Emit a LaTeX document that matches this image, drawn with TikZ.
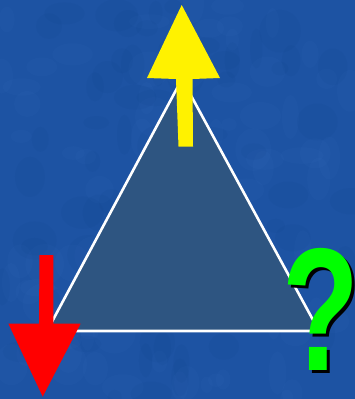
\documentclass[tikz,border=0pt]{standalone}
\usepackage{fontspec}
\setmainfont{Liberation Sans}
\definecolor{bgblue}{HTML}{1D53A3}
\definecolor{bglight}{HTML}{3A74C0}
\definecolor{bgdark}{HTML}{0F3F86}
\definecolor{trifill}{HTML}{2E5581}
\definecolor{qgreen}{HTML}{00FF00}
\tikzset{
  arrowshape/.style={draw=none},
  edge/.style={draw=white, line width=2.6pt, line join=miter},
  qmark/.style={anchor=base, inner sep=0pt, font=\bfseries\fontsize{175}{175}\selectfont},
}
\begin{document}
\begin{tikzpicture}[x=1pt,y=-1pt]
\useasboundingbox (0,0) rectangle (355,399);
\fill[bgblue] (0,0) rectangle (355,399);
\pgfmathsetseed{7}
\begin{scope}
\clip (0,0) rectangle (355,399);
\foreach \i in {1,...,90}{
  \pgfmathsetmacro{\px}{rnd*355}
  \pgfmathsetmacro{\py}{rnd*399}
  \pgfmathsetmacro{\rx}{6+rnd*16}
  \pgfmathsetmacro{\ry}{6+rnd*16}
  \fill[bglight, opacity=0.09] (\px,\py) ellipse [x radius=\rx, y radius=\ry];
}
\foreach \i in {1,...,70}{
  \pgfmathsetmacro{\px}{rnd*355}
  \pgfmathsetmacro{\py}{rnd*399}
  \pgfmathsetmacro{\rx}{6+rnd*16}
  \pgfmathsetmacro{\ry}{6+rnd*16}
  \fill[bgdark, opacity=0.09] (\px,\py) ellipse [x radius=\rx, y radius=\ry];
}
\end{scope}
% triangle
\coordinate (T) at (182,79);
\coordinate (L) at (47,331);
\coordinate (R) at (319,331);
\fill[trifill] (T) -- (L) -- (R) -- cycle;
\draw[edge] (T) -- (L) -- (R) -- cycle;
% yellow arrow up
\fill[yellow, arrowshape] (176,79) -- (147,78) -- (181.7,5) -- (220,78) -- (192.5,79) -- (193,146.5) -- (178.5,146.5) -- cycle;
% red arrow down
\fill[red, arrowshape] (39.5,255) -- (53.3,255) -- (53.3,323.5) -- (80.7,323.5) -- (42.7,396.7) -- (8.3,323.5) -- (39,323.5) -- cycle;
% question mark
\node[qmark, text=black] (qs) at (324,373) {\scalebox{0.72}[1]{?}};
\node[qmark, text=qgreen] (q) at (321,370) {\scalebox{0.72}[1]{?}};
\end{tikzpicture}
\end{document}
